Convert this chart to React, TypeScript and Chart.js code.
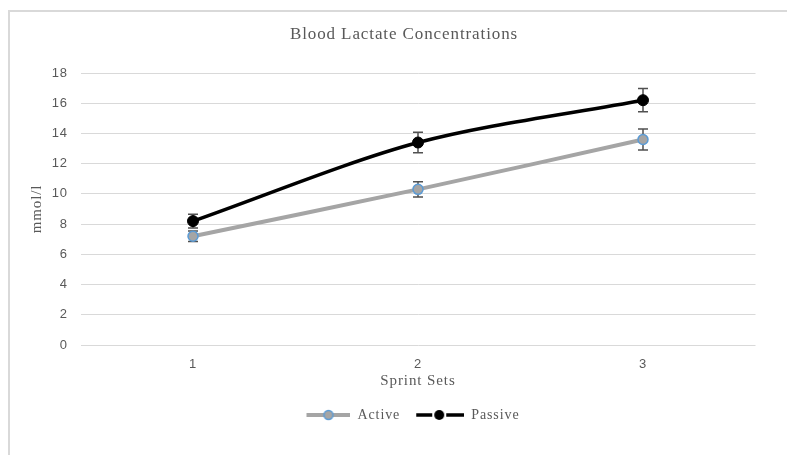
import React, { useEffect, useRef } from "react";
import { Chart, registerables } from "chart.js";

Chart.register(...registerables);

const categories = ["1", "2", "3"];
const activeValues = [7.2, 10.3, 13.6];
const passiveValues = [8.2, 13.4, 16.2];
const activeErrors = [0.35, 0.5, 0.7];
const passiveErrors = [0.45, 0.68, 0.77];
const yMin = 0;
const yMax = 18;
const yStep = 2;

const TEXT = "#595959";
const GRID = "#D9D9D9";
const ACTIVE = "#A5A5A5";
const ACTIVE_BORDER = "#5B9BD5";
const PASSIVE = "#000000";

function makeLegendImage(kind: "active" | "passive"): HTMLCanvasElement {
  const c = document.createElement("canvas");
  c.width = 62;
  c.height = 14;
  const ctx = c.getContext("2d")!;
  if (kind === "active") {
    const x0 = 18, x1 = 62, cx = (x0 + x1) / 2;
    ctx.strokeStyle = ACTIVE;
    ctx.lineWidth = 4;
    ctx.beginPath();
    ctx.moveTo(x0, 7);
    ctx.lineTo(x1, 7);
    ctx.stroke();
    ctx.beginPath();
    ctx.arc(cx, 7, 4.5, 0, Math.PI * 2);
    ctx.fillStyle = ACTIVE;
    ctx.fill();
    ctx.lineWidth = 1.5;
    ctx.strokeStyle = ACTIVE_BORDER;
    ctx.stroke();
  } else {
    const x0 = 14, x1 = 62, cx = 37;
    ctx.strokeStyle = PASSIVE;
    ctx.lineWidth = 3.5;
    ctx.beginPath();
    ctx.moveTo(x0, 7);
    ctx.lineTo(cx - 7, 7);
    ctx.moveTo(cx + 7, 7);
    ctx.lineTo(x1, 7);
    ctx.stroke();
    ctx.beginPath();
    ctx.arc(cx, 7, 5, 0, Math.PI * 2);
    ctx.fillStyle = PASSIVE;
    ctx.fill();
  }
  return c;
}

const spacingPlugin = {
  id: "letterSpacing",
  beforeUpdate(chart: any) {
    chart.ctx.letterSpacing = "0.9px";
  },
  beforeLayout(chart: any) {
    chart.ctx.letterSpacing = "0.9px";
  },
  beforeDraw(chart: any) {
    chart.ctx.letterSpacing = "0.9px";
  },
};

const errorBarPlugin = {
  id: "errorBars",
  beforeDatasetsDraw(chart: any) {
    const ctx = chart.ctx;
    const yScale = chart.scales.y;
    chart.data.datasets.forEach((ds: any, di: number) => {
      const errs: number[] = ds.errors;
      if (!errs) return;
      const meta = chart.getDatasetMeta(di);
      meta.data.forEach((pt: any, i: number) => {
        const v = ds.data[i];
        const e = errs[i];
        const x = pt.x;
        const yTop = yScale.getPixelForValue(v + e);
        const yBot = yScale.getPixelForValue(v - e);
        ctx.save();
        ctx.strokeStyle = "#505050";
        ctx.lineWidth = 1.5;
        ctx.beginPath();
        ctx.moveTo(x, yTop);
        ctx.lineTo(x, yBot);
        ctx.moveTo(x - 5, yTop);
        ctx.lineTo(x + 5, yTop);
        ctx.moveTo(x - 5, yBot);
        ctx.lineTo(x + 5, yBot);
        ctx.stroke();
        ctx.restore();
      });
    });
  },
};

export default function App() {
  const ref = useRef<HTMLCanvasElement | null>(null);

  useEffect(() => {
    if (!ref.current) return;
    const legendImages = [makeLegendImage("active"), makeLegendImage("passive")];
    const chart = new Chart(ref.current, {
      type: "line",
      data: {
        labels: categories,
        datasets: [
          {
            label: "Active",
            data: activeValues,
            errors: activeErrors,
            borderColor: ACTIVE,
            backgroundColor: ACTIVE,
            borderWidth: 4,
            tension: 0.3,
            pointRadius: 5,
            pointBackgroundColor: ACTIVE,
            pointBorderColor: ACTIVE_BORDER,
            pointBorderWidth: 1.5,
          } as any,
          {
            label: "Passive",
            data: passiveValues,
            errors: passiveErrors,
            borderColor: PASSIVE,
            backgroundColor: PASSIVE,
            borderWidth: 3.5,
            tension: 0.3,
            pointRadius: 5.5,
            pointBackgroundColor: PASSIVE,
            pointBorderColor: PASSIVE,
            pointBorderWidth: 1,
          } as any,
        ],
      },
      options: {
        animation: false,
        responsive: false,
        layout: { padding: { left: 21, right: 0, top: 0, bottom: 23 } },
        scales: {
          x: {
            type: "category",
            offset: true,
            grid: { display: false, drawTicks: false },
            border: { display: false },
            ticks: {
              color: TEXT,
              padding: 12,
              font: { family: "Liberation Sans", size: 13 },
            },
            title: {
              display: true,
              text: "Sprint Sets",
              color: TEXT,
              font: { family: "Liberation Serif", size: 15 },
              padding: { top: 0, bottom: 16 },
            },
            afterFit: (s: any) => {
              s.height = 61;
            },
          },
          y: {
            type: "linear",
            position: "left",
            min: yMin,
            max: yMax,
            grid: { color: GRID, lineWidth: 1, drawTicks: false },
            border: { display: false },
            ticks: {
              stepSize: yStep,
              color: TEXT,
              padding: 12.5,
              font: { family: "Liberation Sans", size: 13 },
            },
            title: {
              display: true,
              text: "mmol/l",
              color: TEXT,
              font: { family: "Liberation Serif", size: 15 },
              padding: { top: 7, bottom: 0 },
            },
            afterFit: (s: any) => {
              s.width = 59.5;
            },
          },
          yR: {
            type: "linear",
            position: "right",
            display: true,
            grid: { display: false, drawTicks: false },
            border: { display: false },
            ticks: { display: false },
            afterFit: (s: any) => {
              s.width = 31.5;
            },
          },
        } as any,
        plugins: {
          title: {
            display: true,
            text: "Blood Lactate Concentrations",
            color: TEXT,
            font: { family: "Liberation Serif", size: 17, weight: "normal" },
            padding: { top: 24.8, bottom: 27.8 },
          },
          legend: {
            display: true,
            position: "bottom",
            labels: {
              usePointStyle: true,
              pointStyleWidth: 62,
              padding: 2,
              color: TEXT,
              font: { family: "Liberation Serif", size: 14 },
              generateLabels: (c: any) => {
                const items = (Chart.defaults.plugins.legend.labels as any).generateLabels(c);
                return items.map((it: any, i: number) => ({
                  ...it,
                  pointStyle: legendImages[i],
                  rotation: 0,
                }));
              },
            },
          },
          tooltip: { enabled: false },
        },
      } as any,
      plugins: [spacingPlugin, errorBarPlugin],
    });
    return () => chart.destroy();
  }, []);

  return (
    <div
      style={{
        position: "fixed",
        left: 0,
        top: 0,
        width: 787,
        height: 455,
        overflow: "hidden",
        background: "#ffffff",
      }}
    >
      <div
        style={{
          position: "absolute",
          left: 8,
          top: 10,
          width: 900,
          height: 700,
          borderTop: "2px solid #D9D9D9",
          borderLeft: "2px solid #D9D9D9",
        }}
      />
      <canvas
        ref={ref}
        width={787}
        height={455}
        style={{ position: "absolute", left: 0, top: 0 }}
      />
    </div>
  );
}
